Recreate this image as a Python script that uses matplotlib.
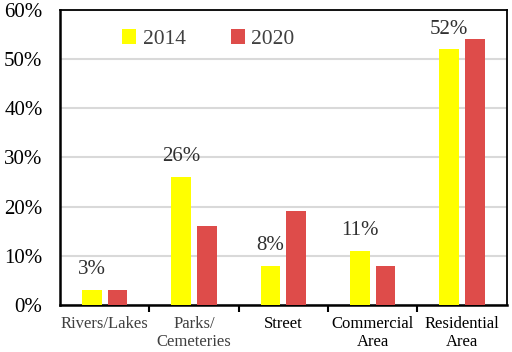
import matplotlib
matplotlib.use("Agg")
import matplotlib.pyplot as plt
import numpy as np

# Land-use share per category
categories = ["Rivers/Lakes", "Parks/\nCemeteries", "Street", "Commercial\nArea", "Residential\nArea"]
label_colors = ["#404040", "#404040", "black", "black", "black"]
values_2014 = [3, 26, 8, 11, 52]
values_2020 = [3, 16, 19, 8, 54]
yticks = [0, 10, 20, 30, 40, 50, 60]

YELLOW = "#FFFF00"
RED = "#DE4C4A"

plt.rcParams["font.family"] = ["Liberation Serif", "DejaVu Serif"]

fig = plt.figure(figsize=(5.12, 3.52), dpi=100)
ax = fig.add_axes([0.117, 0.134, 0.873, 0.838])

x = np.arange(len(categories))
offset = 0.144
width = 0.22
ax.bar(x - offset, values_2014, width, color=YELLOW, label="2014", zorder=3)
ax.bar(x + offset, values_2020, width, color=RED, label="2020", zorder=3)

# value labels above the 2014 bars
for xi, v in zip(x, values_2014):
    ax.annotate(f"{v}%", (xi - offset, v), xytext=(0, 14.5), textcoords="offset points",
                ha="center", va="center", fontsize=15, color="#303030")

ax.set_xlim(-0.5, len(categories) - 0.5)
ax.set_ylim(0, 60)
ax.set_yticks(yticks)
ax.set_yticklabels([f"{t}%" for t in yticks], fontsize=15)
ax.tick_params(axis="y", length=0, pad=12.5)

ax.set_xticks(x)
ax.set_xticklabels(categories, fontsize=12, linespacing=1.15)
for lbl, c in zip(ax.get_xticklabels(), label_colors):
    lbl.set_color(c)
ax.tick_params(axis="x", which="major", length=0, pad=8)
ax.set_xticks(x[:-1] + 0.5, minor=True)
ax.tick_params(axis="x", which="minor", length=5, width=1.5, direction="out")

ax.grid(axis="y", color="#d9d9d9", linewidth=1.5, zorder=0)
for side in ["top", "right"]:
    ax.spines[side].set_linewidth(1.3)
for side in ["left", "bottom"]:
    ax.spines[side].set_linewidth(1.8)

ax.legend(loc="center left", bbox_to_anchor=(0.12, 0.90), ncol=2, frameon=False,
          fontsize=15.5, handlelength=0.65, handleheight=0.65, handletextpad=0.3,
          columnspacing=2.1, labelcolor="#404040", borderaxespad=0)

fig.savefig("out.png", dpi=100)
